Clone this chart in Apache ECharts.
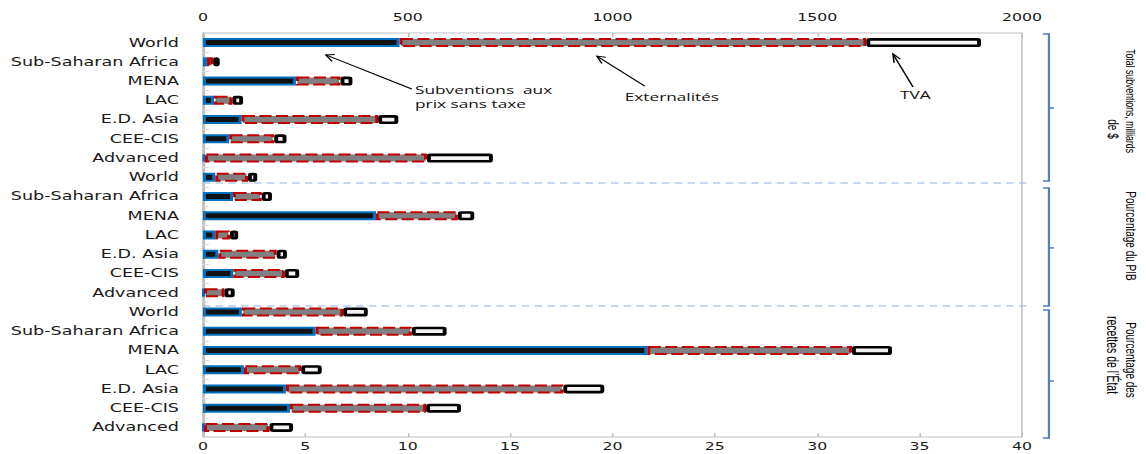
<!DOCTYPE html>
<html lang="fr">
<head>
<meta charset="utf-8">
<title>Subventions à l'énergie</title>
<script src="https://cdn.jsdelivr.net/npm/echarts@6.0.0/dist/echarts.min.js"></script>
<style>
  html, body { margin: 0; padding: 0; background: #ffffff; overflow: hidden; }
  #frame { width: 1146px; height: 454px; overflow: hidden; }
  /* the chart is laid out 764px wide and widened to 1146px */
  #chart { width: 764px; height: 454px; transform: scaleX(1.5); transform-origin: 0 0; }
</style>
</head>
<body>
<div id="frame"><div id="chart"></div></div>
<script>
const S = 1.5; // horizontal widening of the chart box

const regions = ['World', 'Sub-Saharan Africa', 'MENA', 'LAC', 'E.D. Asia', 'CEE-CIS', 'Advanced'];
const categories = regions.concat(regions, regions);

const topTicks = [0, 500, 1000, 1500, 2000];          // milliards de $
const bottomTicks = [0, 5, 10, 15, 20, 25, 30, 35, 40]; // pourcentages

// Total subventions, milliards de $
const totalPreTax   = [480, 10, 227, 27, 94, 64, 5];
const totalExternal = [1140, 15, 109, 45, 334, 110, 542];
const totalVat      = [280, 16, 29, 26, 49, 30, 161];

// Pourcentage du PIB
const gdpPreTax   = [0.6, 1.47, 8.45, 0.6, 0.75, 1.48, 0.05];
const gdpExternal = [1.6, 1.4, 4.0, 0.72, 2.85, 2.52, 1.0];
const gdpVat      = [0.45, 0.5, 0.8, 0.4, 0.5, 0.7, 0.5];

// Pourcentage des recettes de l'État
const revPreTax   = [1.9, 5.5, 21.7, 2.0, 4.05, 4.25, 0.05];
const revExternal = [4.95, 4.7, 10.0, 2.8, 13.55, 6.65, 3.2];
const revVat      = [1.2, 1.7, 1.95, 1.0, 2.0, 1.7, 1.15];

const pad = n => new Array(n).fill('-');
const topRows = a => a.concat(pad(14));
const bottomRows = (g, r) => pad(7).concat(g, r);

const preTaxStyle = { color: '#121212', borderColor: '#0070c0', borderWidth: 2 };
const externalStyle = { color: '#808080', borderColor: '#c00000', borderWidth: 2, borderType: [8, 3] };
const vatStyle = { color: '#f2f2f2', borderColor: '#000000', borderWidth: 2.6, borderRadius: 1 };

function bar(name, xAxisIndex, stack, data, itemStyle) {
  return {
    name, type: 'bar', xAxisIndex, yAxisIndex: 0, stack, data,
    barWidth: 9, barGap: '-100%', itemStyle,
    silent: true, emphasis: { disabled: true }
  };
}

const labelFont = { fontFamily: '"DejaVu Sans", Verdana, sans-serif', color: '#1a1a1a' };

function valueAxis(ticks, position) {
  const top = position === 'top';
  return {
    type: 'value', position, gridIndex: 0,
    min: ticks[0], max: ticks[ticks.length - 1], interval: ticks[1] - ticks[0],
    axisLine: { show: false },
    axisTick: { show: true, inside: true, length: 4, lineStyle: { color: '#bfbfbf' } },
    splitLine: { show: false },
    axisLabel: Object.assign({
      fontSize: 10.5, lineHeight: 12, margin: top ? 10 : 3, formatter: v => String(v)
    }, labelFont)
  };
}

const chart = echarts.init(document.getElementById('chart'), null, { renderer: 'svg' });

chart.setOption({
  animation: false,
  backgroundColor: '#ffffff',
  grid: {
    left: 135.3, right: 82.7, top: 33, bottom: 17,
    show: true, borderColor: '#bfbfbf', borderWidth: 1,
    containLabel: false, outerBoundsMode: 'none'
  },
  xAxis: [valueAxis(topTicks, 'top'), valueAxis(bottomTicks, 'bottom')],
  yAxis: {
    type: 'category', data: categories, inverse: true,
    axisLine: { show: true, lineStyle: { color: '#bfbfbf', width: 1.5 } },
    axisTick: { show: true, inside: true, length: 4, lineStyle: { color: '#d9d9d9' } },
    splitLine: { show: false },
    axisLabel: Object.assign({ fontSize: 11.7, margin: 16, interval: 0 }, labelFont)
  },
  series: [
    bar('Subventions aux prix sans taxe', 0, 'total', topRows(totalPreTax), preTaxStyle),
    bar('Externalités', 0, 'total', topRows(totalExternal), externalStyle),
    bar('TVA', 0, 'total', topRows(totalVat), vatStyle),
    bar('Subventions aux prix sans taxe', 1, 'share', bottomRows(gdpPreTax, revPreTax), preTaxStyle),
    bar('Externalités', 1, 'share', bottomRows(gdpExternal, revExternal), externalStyle),
    bar('TVA', 1, 'share', bottomRows(gdpVat, revVat), vatStyle)
  ]
});

// ---- annotations, group separators and side braces ----
const row0 = chart.convertToPixel({ yAxisIndex: 0 }, 0);
const rowN = chart.convertToPixel({ yAxisIndex: 0 }, categories.length - 1);
const rowH = (rowN - row0) / (categories.length - 1);
const rowY = p => row0 + p * rowH;
const valX = v => chart.convertToPixel({ xAxisIndex: 0 }, v);   // chart-space x
const plotLeft = valX(topTicks[0]);
const plotRight = valX(topTicks[topTicks.length - 1]);

const ink = '#000000';
const braceColor = '#4f81bd';
const elements = [];

// dashed separators between the three blocks
[7.3, 13.69].forEach(p => {
  elements.push({
    type: 'line', silent: true,
    shape: { x1: plotLeft, y1: rowY(p), x2: plotRight + 8 / S, y2: rowY(p) },
    style: { stroke: '#8eb4e3', lineWidth: 1, lineDash: [5, 3.5] }
  });
});

// braces on the right side: [top, bottom, middle] in rows
const braces = [[-0.45, 7.19, 3.4], [7.56, 13.69, 10.67], [13.9, 20.55, 17.59]];
const braceX = plotRight + 27 / S;
braces.forEach(([t, b, m]) => {
  elements.push({
    type: 'polyline', silent: true,
    shape: { points: [[braceX - 6 / S, rowY(t)], [braceX, rowY(t)], [braceX, rowY(b)], [braceX - 6 / S, rowY(b)]] },
    style: { stroke: braceColor, lineWidth: 1.5, fill: null }
  });
  elements.push({
    type: 'line', silent: true,
    shape: { x1: braceX, y1: rowY(m), x2: braceX + 5 / S, y2: rowY(m) },
    style: { stroke: braceColor, lineWidth: 1.5 }
  });
});

// vertical block titles
function sideText(text, xOffset, p, size) {
  elements.push({
    type: 'text', silent: true,
    x: plotRight + xOffset / S, y: rowY(p),
    rotation: -Math.PI / 2,
    style: {
      text, fontSize: size, fontFamily: '"Liberation Sans", Arial, sans-serif', fill: ink,
      align: 'center', verticalAlign: 'middle', textAlign: 'center', textVerticalAlign: 'middle'
    }
  });
}
sideText('Total subventions, milliards', 109, 3.04, 8.7);
sideText('de $', 91, 4.49, 10);
sideText('Pourcentage du PIB', 109, 10.05, 10);
sideText('Pourcentage des', 109, 16.5, 10);
sideText('recettes de l\u2019État', 90, 16.24, 10.5);

// callouts with arrows (value on the top axis, position in rows)
function callout(lines, tail, tip, textAt) {
  const x1 = valX(tail[0]) * S, y1 = rowY(tail[1]);
  const x2 = valX(tip[0]) * S, y2 = rowY(tip[1]);
  const ang = Math.atan2(y1 - y2, x1 - x2), L = 9, spread = 0.42;
  const h1 = [x2 + L * Math.cos(ang + spread), y2 + L * Math.sin(ang + spread)];
  const h2 = [x2 + L * Math.cos(ang - spread), y2 + L * Math.sin(ang - spread)];
  elements.push({
    type: 'line', silent: true,
    shape: { x1: x1 / S, y1, x2: x2 / S, y2 },
    style: { stroke: ink, lineWidth: 1 }
  });
  elements.push({
    type: 'polyline', silent: true,
    shape: { points: [[h1[0] / S, h1[1]], [x2 / S, y2], [h2[0] / S, h2[1]]] },
    style: { stroke: ink, lineWidth: 1, fill: null }
  });
  lines.forEach((t, i) => {
    elements.push({
      type: 'text', silent: true,
      x: valX(textAt[0]), y: rowY(textAt[1] + i * 0.73),
      style: {
        text: t, fontSize: 11.5, fontFamily: '"Open Sans", "DejaVu Sans", sans-serif', fill: '#111111',
        align: 'left', verticalAlign: 'middle', textAlign: 'left', textVerticalAlign: 'middle'
      }
    });
  });
}
callout(['Subventions  aux', 'prix sans taxe'], [510, 2.41], [300, 0.64], [518, 2.41]);
callout(['Externalités'], [1079, 2.26], [962, 0.70], [1030, 2.78]);
callout(['TVA'], [1734, 2.31], [1685, 0.59], [1702, 2.67]);

chart.setOption({ graphic: { elements } });
</script>
</body>
</html>
